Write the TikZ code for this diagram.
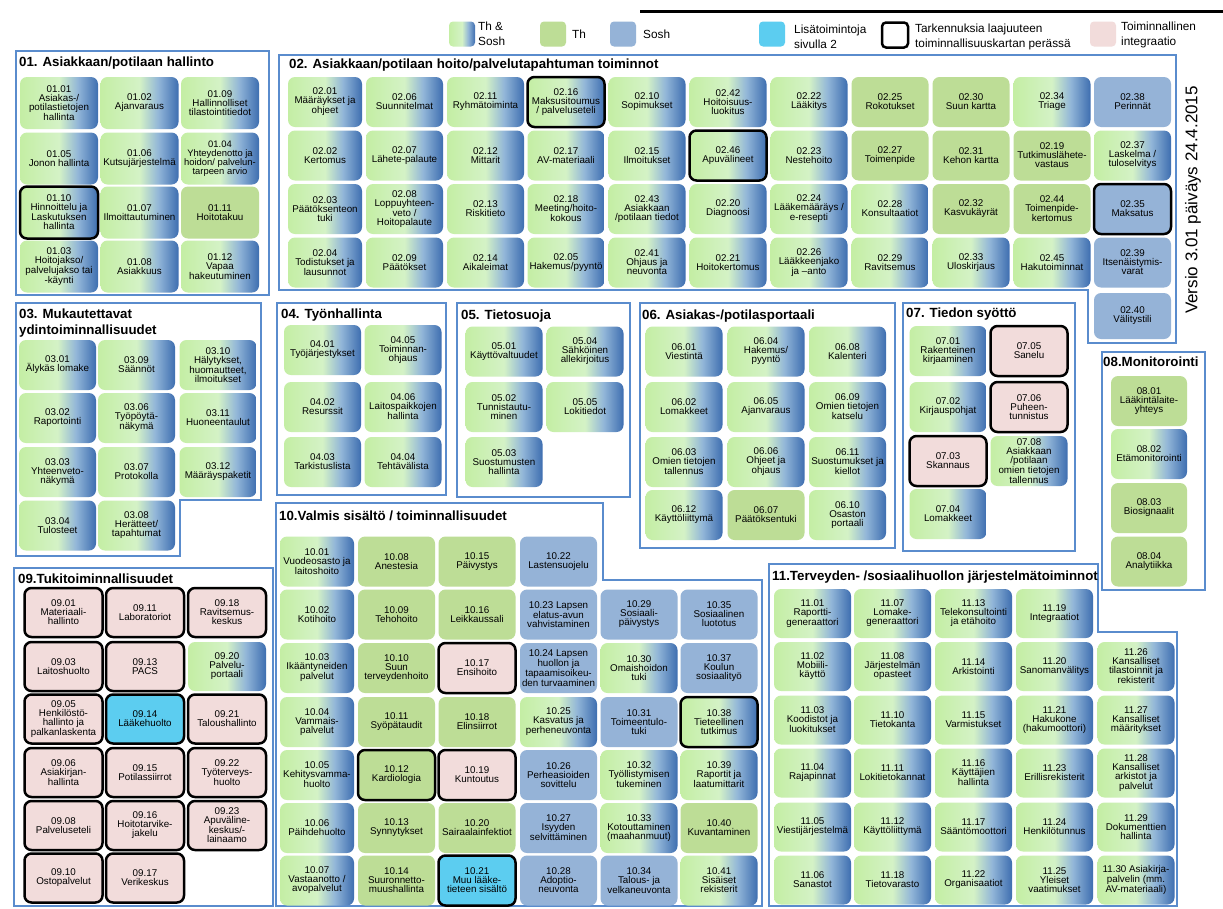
\documentclass[tikz,border=0pt]{standalone}
\usepackage{fontspec}
\setmainfont{Liberation Sans}
\definecolor{gL}{RGB}{196,238,164}
\definecolor{gM}{RGB}{212,242,198}
\definecolor{gT}{RGB}{146,182,216}
\definecolor{gR}{RGB}{62,110,176}
\definecolor{thgreen}{RGB}{189,221,150}
\definecolor{soshblue}{RGB}{149,179,215}
\definecolor{lisacyan}{RGB}{92,205,240}
\definecolor{integpink}{RGB}{242,220,219}
\definecolor{framebl}{RGB}{90,140,205}
\pgfdeclarehorizontalshading{thsoshshade}{100bp}{color(0bp)=(gL); color(25bp)=(gL); color(50bp)=(gM); color(62bp)=(gT); color(75bp)=(gR); color(100bp)=(gR)}
\begin{document}
\begin{tikzpicture}[x=1pt,y=-1pt,
  fbox/.style={rounded corners=7pt, minimum width=77pt, minimum height=50pt, inner sep=1pt, align=center, font=\fontsize{9.8}{9}\selectfont},
  thsosh/.style={fbox, shading=thsoshshade},
  th/.style={fbox, fill=thgreen},
  sosh/.style={fbox, fill=soshblue},
  lisa/.style={fbox, fill=lisacyan},
  integ/.style={fbox, fill=integpink},
  tark/.style={draw=black, line width=2.5pt},
  secframe/.style={draw=framebl, line width=1.6pt},
  sectitle/.style={anchor=west, inner sep=0pt, align=left, font=\fontsize{13.3}{15.5}\selectfont\bfseries},
  legsw/.style={rounded corners=4pt, minimum width=26pt, minimum height=25pt, inner sep=0pt},
  legtext/.style={anchor=west, inner sep=0pt, align=left, font=\fontsize{11.8}{15}\selectfont}]
\useasboundingbox (0,0) rectangle (1223,908);
\fill[white] (0,0) rectangle (1223,908);
\draw[line width=3pt] (640,11) -- (1223,11);

\node[legsw, shading=thsoshshade] (lg1) at (462,34) {};
\node[legtext] (lt1) at (478,34) {Th \&\\Sosh};
\node[legsw, fill=thgreen] (lg2) at (553,34) {};
\node[legtext] (lt2) at (572,34) {Th};
\node[legsw, fill=soshblue] (lg3) at (623,34) {};
\node[legtext] (lt3) at (643,34) {Sosh};
\node[legsw, fill=lisacyan] (lg4) at (772,34) {};
\node[legtext] (lt4) at (794,37) {Lisätoimintoja\\sivulla 2};
\node[legsw, draw=black, line width=2.5pt] (lg5) at (895,35) {};
\node[legtext] (lt5) at (915,37) {Tarkennuksia laajuuteen\\toiminnallisuuskartan perässä};
\node[legsw, fill=integpink] (lg6) at (1103,34) {};
\node[legtext] (lt6) at (1121,35) {Toiminnallinen\\integraatio};
\node[rotate=90, inner sep=0pt, font=\fontsize{17}{17}\selectfont] (ver) at (1193,200) {Versio 3.01 päiväys 24.4.2015};

\draw[secframe] (16,51) rectangle (269,295);
\draw[secframe] (279,55) -- (1176,55) -- (1176,343) -- (1088,343) -- (1088,290) -- (279,290) -- cycle;
\draw[secframe] (16,303) -- (261,303) -- (261,500) -- (180,500) -- (180,556) -- (16,556) -- cycle;
\draw[secframe] (277,303) rectangle (446,495);
\draw[secframe] (457,303) rectangle (630,497);
\draw[secframe] (640,303) rectangle (895,548);
\draw[secframe] (903,303) rectangle (1075,551);
\draw[secframe] (1102,352) rectangle (1205,590);
\draw[secframe] (14,568) rectangle (273,906);
\draw[secframe] (276,503) -- (603,503) -- (603,580) -- (762,580) -- (762,906) -- (276,906) -- cycle;
\draw[secframe] (769,564) -- (1098,564) -- (1098,632) -- (1177,632) -- (1177,906) -- (769,906) -- cycle;

\node[sectitle] (t01) at (19,63.5) {01. Asiakkaan/potilaan hallinto};
\node[sectitle] (t02) at (289,65) {02. Asiakkaan/potilaan hoito/palvelutapahtuman toiminnot};
\node[sectitle] (t03) at (19,323) {03. Mukautettavat\\ydintoiminnallisuudet};
\node[sectitle] (t04) at (281,315) {04. Työnhallinta};
\node[sectitle] (t05) at (461,316) {05. Tietosuoja};
\node[sectitle] (t06) at (642,316) {06. Asiakas-/potilasportaali};
\node[sectitle] (t07) at (906,314) {07. Tiedon syöttö};
\node[sectitle] (t08) at (1103,361.5) {08.Monitorointi};
\node[sectitle] (t09) at (18,578.5) {09.Tukitoiminnallisuudet};
\node[sectitle] (t10) at (279,515.5) {10.Valmis sisältö / toiminnallisuudet};
\node[sectitle] (t11) at (772,577.5) {11.Terveyden- /sosiaalihuollon järjestelmätoiminnot};

\begin{scope}[fbox/.append style={minimum width=78pt, minimum height=52pt}]
\node[thsosh] (b0101) at (59,103) {01.01\\Asiakas-/\\potilastietojen\\hallinta};
\node[thsosh] (b0102) at (139.5,103) {01.02\\Ajanvaraus};
\node[thsosh] (b0109) at (220,103) {01.09\\Hallinnolliset\\tilastointitiedot};
\node[thsosh] (b0105) at (59,158.5) {01.05\\Jonon hallinta};
\node[thsosh] (b0106) at (139.5,158.5) {01.06\\Kutsujärjestelmä};
\node[thsosh, font=\fontsize{9.4}{9}\selectfont] (b0104) at (220,158.5) {01.04\\Yhteydenotto ja\\hoidon/ palvelun-\\tarpeen arvio};
\node[thsosh, tark] (b0110) at (59,212.5) {01.10\\Hinnoittelu ja\\Laskutuksen\\hallinta};
\node[thsosh] (b0107) at (139.5,212.5) {01.07\\Ilmoittautuminen};
\node[th] (b0111) at (220,212.5) {01.11\\Hoitotakuu};
\node[thsosh] (b0103) at (59,266.5) {01.03\\Hoitojakso/\\palvelujakso tai\\-käynti};
\node[thsosh] (b0108) at (139.5,266.5) {01.08\\Asiakkuus};
\node[thsosh] (b0112) at (220,266.5) {01.12\\Vapaa\\hakeutuminen};
\end{scope}

\node[thsosh, minimum width=74pt] (b0201) at (325,102) {02.01\\Määräykset ja\\ohjeet};
\node[thsosh] (b0206) at (404.5,102) {02.06\\Suunnitelmat};
\node[thsosh] (b0211) at (485.5,102) {02.11\\Ryhmätoiminta};
\node[thsosh, tark] (b0216) at (566,102) {02.16\\Maksusitoumus\\/ palveluseteli};
\node[thsosh] (b0210) at (647,102) {02.10\\Sopimukset};
\node[thsosh] (b0242) at (728,102) {02.42\\Hoitoisuus-\\luokitus};
\node[thsosh] (b0222) at (809,102) {02.22\\Lääkitys};
\node[th] (b0225) at (890,102) {02.25\\Rokotukset};
\node[th] (b0230) at (971,102) {02.30\\Suun kartta};
\node[thsosh] (b0234) at (1052,102) {02.34\\Triage};
\node[sosh] (b0238) at (1132.5,102) {02.38\\Perinnät};
\node[thsosh, minimum width=74pt] (b0202) at (325,155.5) {02.02\\Kertomus};
\node[thsosh] (b0207) at (404.5,155.5) {02.07\\Lähete-palaute};
\node[thsosh] (b0212) at (485.5,155.5) {02.12\\Mittarit};
\node[thsosh] (b0217) at (566,155.5) {02.17\\AV-materiaali};
\node[thsosh] (b0215) at (647,155.5) {02.15\\Ilmoitukset};
\node[thsosh, tark] (b0246) at (728,155.5) {02.46\\Apuvälineet};
\node[thsosh] (b0223) at (809,155.5) {02.23\\Nestehoito};
\node[th] (b0227) at (890,155.5) {02.27\\Toimenpide};
\node[th] (b0231) at (971,155.5) {02.31\\Kehon kartta};
\node[th] (b0219) at (1052,155.5) {02.19\\Tutkimuslähete-\\vastaus};
\node[thsosh] (b0237) at (1132.5,155.5) {02.37\\Laskelma /\\tuloselvitys};
\node[thsosh, minimum width=74pt] (b0203) at (325,209) {02.03\\Päätöksenteon\\tuki};
\node[thsosh] (b0208) at (404.5,209) {02.08\\Loppuyhteen-\\veto /\\Hoitopalaute};
\node[thsosh] (b0213) at (485.5,209) {02.13\\Riskitieto};
\node[thsosh] (b0218) at (566,209) {02.18\\Meeting/hoito-\\kokous};
\node[thsosh] (b0243) at (647,209) {02.43\\Asiakkaan\\/potilaan tiedot};
\node[thsosh] (b0220) at (728,209) {02.20\\Diagnoosi};
\node[thsosh] (b0224) at (809,209) {02.24\\Lääkemääräys /\\e-resepti};
\node[thsosh] (b0228) at (890,209) {02.28\\Konsultaatiot};
\node[th] (b0232) at (971,209) {02.32\\Kasvukäyrät};
\node[th] (b0244) at (1052,209) {02.44\\Toimenpide-\\kertomus};
\node[sosh, tark] (b0235) at (1132.5,209) {02.35\\Maksatus};
\node[thsosh, minimum width=74pt] (b0204) at (325,262.5) {02.04\\Todistukset ja\\lausunnot};
\node[thsosh] (b0209) at (404.5,262.5) {02.09\\Päätökset};
\node[thsosh] (b0214) at (485.5,262.5) {02.14\\Aikaleimat};
\node[thsosh] (b0205) at (566,262.5) {02.05\\Hakemus/pyyntö};
\node[thsosh] (b0241) at (647,262.5) {02.41\\Ohjaus ja\\neuvonta};
\node[thsosh] (b0221) at (728,262.5) {02.21\\Hoitokertomus};
\node[thsosh] (b0226) at (809,262.5) {02.26\\Lääkkeenjako\\ja –anto};
\node[thsosh] (b0229) at (890,262.5) {02.29\\Ravitsemus};
\node[thsosh] (b0233) at (971,262.5) {02.33\\Uloskirjaus};
\node[thsosh] (b0245) at (1052,262.5) {02.45\\Hakutoiminnat};
\node[sosh] (b0239) at (1132.5,262.5) {02.39\\Itsenäistymis-\\varat};
\node[sosh, minimum height=46pt] (b0240) at (1132.5,316) {02.40\\Välitystili};

\node[thsosh] (b0301) at (57.5,365) {03.01\\Älykäs lomake};
\node[thsosh] (b0309) at (136.5,365) {03.09\\Säännöt};
\node[thsosh] (b0310) at (218,365) {03.10\\Hälytykset,\\huomautteet,\\ilmoitukset};
\node[thsosh] (b0302) at (57.5,418) {03.02\\Raportointi};
\node[thsosh] (b0306) at (136.5,418) {03.06\\Työpöytä-\\näkymä};
\node[thsosh] (b0311) at (218,418) {03.11\\Huoneentaulut};
\node[thsosh] (b0303) at (57.5,472) {03.03\\Yhteenveto-\\näkymä};
\node[thsosh] (b0307) at (136.5,472) {03.07\\Protokolla};
\node[thsosh] (b0312) at (218,472) {03.12\\Määräyspaketit};
\node[thsosh] (b0304) at (57.5,525.5) {03.04\\Tulosteet};
\node[thsosh] (b0308) at (136.5,525.5) {03.08\\Herätteet/\\tapahtumat};

\node[thsosh] (b0401) at (322.5,350) {04.01\\Työjärjestykset};
\node[thsosh] (b0405) at (403,350) {04.05\\Toiminnan-\\ohjaus};
\node[thsosh] (b0402) at (322.5,407) {04.02\\Resurssit};
\node[thsosh] (b0406) at (403,407) {04.06\\Laitospaikkojen\\hallinta};
\node[thsosh] (b0403) at (322.5,462) {04.03\\Tarkistuslista};
\node[thsosh] (b0404) at (403,462) {04.04\\Tehtävälista};

\node[thsosh] (b0501) at (504,351.5) {05.01\\Käyttövaltuudet};
\node[thsosh] (b0504) at (585,351.5) {05.04\\Sähköinen\\allekirjoitus};
\node[thsosh] (b0502) at (504,407) {05.02\\Tunnistautu-\\minen};
\node[thsosh] (b0505) at (585,407) {05.05\\Lokitiedot};
\node[thsosh] (b0503) at (504,462) {05.03\\Suostumusten\\hallinta};

\node[thsosh] (b0601) at (684,351.5) {06.01\\Viestintä};
\node[thsosh] (b0604) at (766,351.5) {06.04\\Hakemus/\\pyyntö};
\node[thsosh] (b0608) at (847.5,351.5) {06.08\\Kalenteri};
\node[thsosh] (b0602) at (684,407) {06.02\\Lomakkeet};
\node[thsosh] (b0605) at (766,407) {06.05\\Ajanvaraus};
\node[thsosh] (b0609) at (847.5,407) {06.09\\Omien tietojen\\katselu};
\node[thsosh] (b0603) at (684,462) {06.03\\Omien tietojen\\tallennus};
\node[thsosh] (b0606) at (766,462) {06.06\\Ohjeet ja\\ohjaus};
\node[thsosh] (b0611) at (847.5,462) {06.11\\Suostumukset ja\\kiellot};
\node[thsosh] (b0612) at (684,515) {06.12\\Käyttöliittymä};
\node[th] (b0607) at (766,515) {06.07\\Päätöksentuki};
\node[thsosh] (b0610) at (847.5,515) {06.10\\Osaston\\portaali};

\node[thsosh] (b0701) at (948,351) {07.01\\Rakenteinen\\kirjaaminen};
\node[integ, tark] (b0705) at (1029,351) {07.05\\Sanelu};
\node[thsosh] (b0702) at (948,407) {07.02\\Kirjauspohjat};
\node[integ, tark] (b0706) at (1029,407) {07.06\\Puheen-\\tunnistus};
\node[integ, tark] (b0703) at (948,461) {07.03\\Skannaus};
\node[thsosh] (b0708) at (1029,461) {07.08\\Asiakkaan\\/potilaan\\omien tietojen\\tallennus};
\node[thsosh] (b0704) at (948,514) {07.04\\Lomakkeet};

\node[th, minimum width=76pt] (b0801) at (1149,401) {08.01\\Lääkintälaite-\\yhteys};
\node[thsosh, minimum width=76pt] (b0802) at (1149,454) {08.02\\Etämonitorointi};
\node[th, minimum width=76pt] (b0803) at (1149,508) {08.03\\Biosignaalit};
\node[th, minimum width=76pt] (b0804) at (1149,561.5) {08.04\\Analytiikka};

\begin{scope}[fbox/.append style={minimum width=78pt, minimum height=49pt}]
\node[integ, tark] (b0901) at (63.5,612.5) {09.01\\Materiaali-\\hallinto};
\node[integ, tark] (b0911) at (145,612.5) {09.11\\Laboratoriot};
\node[integ, tark] (b0918) at (227,612.5) {09.18\\Ravitsemus-\\keskus};
\node[integ, tark] (b0903) at (63.5,666.5) {09.03\\Laitoshuolto};
\node[integ, tark] (b0913) at (145,666.5) {09.13\\PACS};
\node[thsosh] (b0920) at (227,666.5) {09.20\\Palvelu-\\portaali};
\node[integ, tark] (b0905) at (63.5,719) {09.05\\Henkilöstö-\\hallinto ja\\palkanlaskenta};
\node[lisa, tark] (b0914) at (145,719) {09.14\\Lääkehuolto};
\node[integ, tark] (b0921) at (227,719) {09.21\\Taloushallinto};
\node[integ, tark] (b0906) at (63.5,772.5) {09.06\\Asiakirjan-\\hallinta};
\node[integ, tark] (b0915) at (145,772.5) {09.15\\Potilassiirrot};
\node[integ, tark] (b0922) at (227,772.5) {09.22\\Työterveys-\\huolto};
\node[integ, tark] (b0908) at (63.5,825.5) {09.08\\Palveluseteli};
\node[integ, tark] (b0916) at (145,825.5) {09.16\\Hoitotarvike-\\jakelu};
\node[integ, tark] (b0923) at (227,825.5) {09.23\\Apuväline-\\keskus/-\\lainaamo};
\node[integ, tark] (b0910) at (63.5,878) {09.10\\Ostopalvelut};
\node[integ, tark] (b0917) at (145,878) {09.17\\Verikeskus};
\end{scope}

\node[thsosh, minimum width=74pt] (b1001) at (317,561.5) {10.01\\Vuodeosasto ja\\laitoshoito};
\node[thsosh, minimum width=74pt] (b1002) at (317,614.5) {10.02\\Kotihoito};
\node[thsosh, minimum width=74pt] (b1003) at (317,668) {10.03\\Ikääntyneiden\\palvelut};
\node[thsosh, minimum width=74pt] (b1004) at (317,722) {10.04\\Vammais-\\palvelut};
\node[thsosh, minimum width=74pt] (b1005) at (317,775) {10.05\\Kehitysvamma-\\huolto};
\node[thsosh, minimum width=74pt] (b1006) at (317,828) {10.06\\Päihdehuolto};
\node[thsosh, minimum width=74pt] (b1007) at (317,880.5) {10.07\\Vastaanotto /\\avopalvelut};
\node[th] (b1008) at (396.5,561.5) {10.08\\Anestesia};
\node[th] (b1009) at (396.5,614.5) {10.09\\Tehohoito};
\node[th] (b1010) at (396.5,668) {10.10\\Suun\\terveydenhoito};
\node[th] (b1011) at (396.5,722) {10.11\\Syöpätaudit};
\node[th, tark] (b1012) at (396.5,775) {10.12\\Kardiologia};
\node[th] (b1013) at (396.5,828) {10.13\\Synnytykset};
\node[th] (b1014) at (396.5,880.5) {10.14\\Suuronnetto-\\muushallinta};
\node[th] (b1015) at (477,561.5) {10.15\\Päivystys};
\node[th] (b1016) at (477,614.5) {10.16\\Leikkaussali};
\node[integ, tark] (b1017) at (477,668) {10.17\\Ensihoito};
\node[th] (b1018) at (477,722) {10.18\\Elinsiirrot};
\node[integ, tark] (b1019) at (477,775) {10.19\\Kuntoutus};
\node[th] (b1020) at (477,828) {10.20\\Sairaalainfektiot};
\node[lisa, tark] (b1021) at (477,880.5) {10.21\\Muu lääke-\\tieteen sisältö};
\node[sosh] (b1022) at (558.5,561.5) {10.22\\Lastensuojelu};
\node[sosh] (b1023) at (558.5,614.5) {10.23 Lapsen\\elatus-avun\\vahvistaminen};
\node[sosh] (b1024) at (558.5,668) {10.24 Lapsen\\huollon ja\\tapaamisoikeu-\\den turvaaminen};
\node[thsosh] (b1025) at (558.5,722) {10.25\\Kasvatus ja\\perheneuvonta};
\node[sosh] (b1026) at (558.5,775) {10.26\\Perheasioiden\\sovittelu};
\node[sosh] (b1027) at (558.5,828) {10.27\\Isyyden\\selvittäminen};
\node[sosh] (b1028) at (558.5,880.5) {10.28\\Adoptio-\\neuvonta};
\node[sosh] (b1029) at (639,614.5) {10.29\\Sosiaali-\\päivystys};
\node[thsosh] (b1030) at (639,668) {10.30\\Omaishoidon\\tuki};
\node[sosh] (b1031) at (639,722) {10.31\\Toimeentulo-\\tuki};
\node[thsosh] (b1032) at (639,775) {10.32\\Työllistymisen\\tukeminen};
\node[thsosh] (b1033) at (639,828) {10.33\\Kotouttaminen\\(maahanmuut)};
\node[sosh] (b1034) at (639,880.5) {10.34\\Talous- ja\\velkaneuvonta};
\node[sosh] (b1035) at (719,614.5) {10.35\\Sosiaalinen\\luototus};
\node[sosh] (b1037) at (719,668) {10.37\\Koulun\\sosiaalityö};
\node[thsosh, tark] (b1038) at (719,722) {10.38\\Tieteellinen\\tutkimus};
\node[thsosh] (b1039) at (719,775) {10.39\\Raportit ja\\laatumittarit};
\node[th] (b1040) at (719,828) {10.40\\Kuvantaminen};
\node[thsosh] (b1041) at (719,880.5) {10.41\\Sisäiset\\rekisterit};

\begin{scope}[fbox/.append style={minimum height=49pt}]
\node[thsosh] (b1101) at (812.5,613.5) {11.01\\Raportti-\\generaattori};
\node[thsosh] (b1102) at (812.5,666.5) {11.02\\Mobiili-\\käyttö};
\node[thsosh] (b1103) at (812.5,720) {11.03\\Koodistot ja\\luokitukset};
\node[thsosh] (b1104) at (812.5,773) {11.04\\Rajapinnat};
\node[thsosh] (b1105) at (812.5,827) {11.05\\Viestijärjestelmä};
\node[thsosh] (b1106) at (812.5,880) {11.06\\Sanastot};
\node[thsosh] (b1107) at (892.5,613.5) {11.07\\Lomake-\\generaattori};
\node[thsosh] (b1108) at (892.5,666.5) {11.08\\Järjestelmän\\opasteet};
\node[thsosh] (b1110) at (892.5,720) {11.10\\Tietokanta};
\node[thsosh] (b1111) at (892.5,773) {11.11\\Lokitietokannat};
\node[thsosh] (b1112) at (892.5,827) {11.12\\Käyttöliittymä};
\node[thsosh] (b1118) at (892.5,880) {11.18\\Tietovarasto};
\node[thsosh] (b1113) at (973.5,613.5) {11.13\\Telekonsultointi\\ja etähoito};
\node[thsosh] (b1114) at (973.5,666.5) {11.14\\Arkistointi};
\node[thsosh] (b1115) at (973.5,720) {11.15\\Varmistukset};
\node[thsosh] (b1116) at (973.5,773) {11.16\\Käyttäjien\\hallinta};
\node[thsosh] (b1117) at (973.5,827) {11.17\\Sääntömoottori};
\node[thsosh] (b1122) at (973.5,880) {11.22\\Organisaatiot};
\node[thsosh] (b1119) at (1054.5,613.5) {11.19\\Integraatiot};
\node[thsosh] (b1120) at (1054.5,666.5) {11.20\\Sanomanvälitys};
\node[thsosh] (b1121) at (1054.5,720) {11.21\\Hakukone\\(hakumoottori)};
\node[thsosh] (b1123) at (1054.5,773) {11.23\\Erillisrekisterit};
\node[thsosh] (b1124) at (1054.5,827) {11.24\\Henkilötunnus};
\node[thsosh] (b1125) at (1054.5,880) {11.25\\Yleiset\\vaatimukset};
\node[thsosh] (b1126) at (1136,666.5) {11.26\\Kansalliset\\tilastoinnit ja\\rekisterit};
\node[thsosh] (b1127) at (1136,720) {11.27\\Kansalliset\\määritykset};
\node[thsosh] (b1128) at (1136,773) {11.28\\Kansalliset\\arkistot ja\\palvelut};
\node[thsosh] (b1129) at (1136,827) {11.29\\Dokumenttien\\hallinta};
\node[thsosh] (b1130) at (1136,880) {11.30 Asiakirja-\\palvelin (mm.\\AV-materiaali)};
\end{scope}
\end{tikzpicture}
\end{document}
